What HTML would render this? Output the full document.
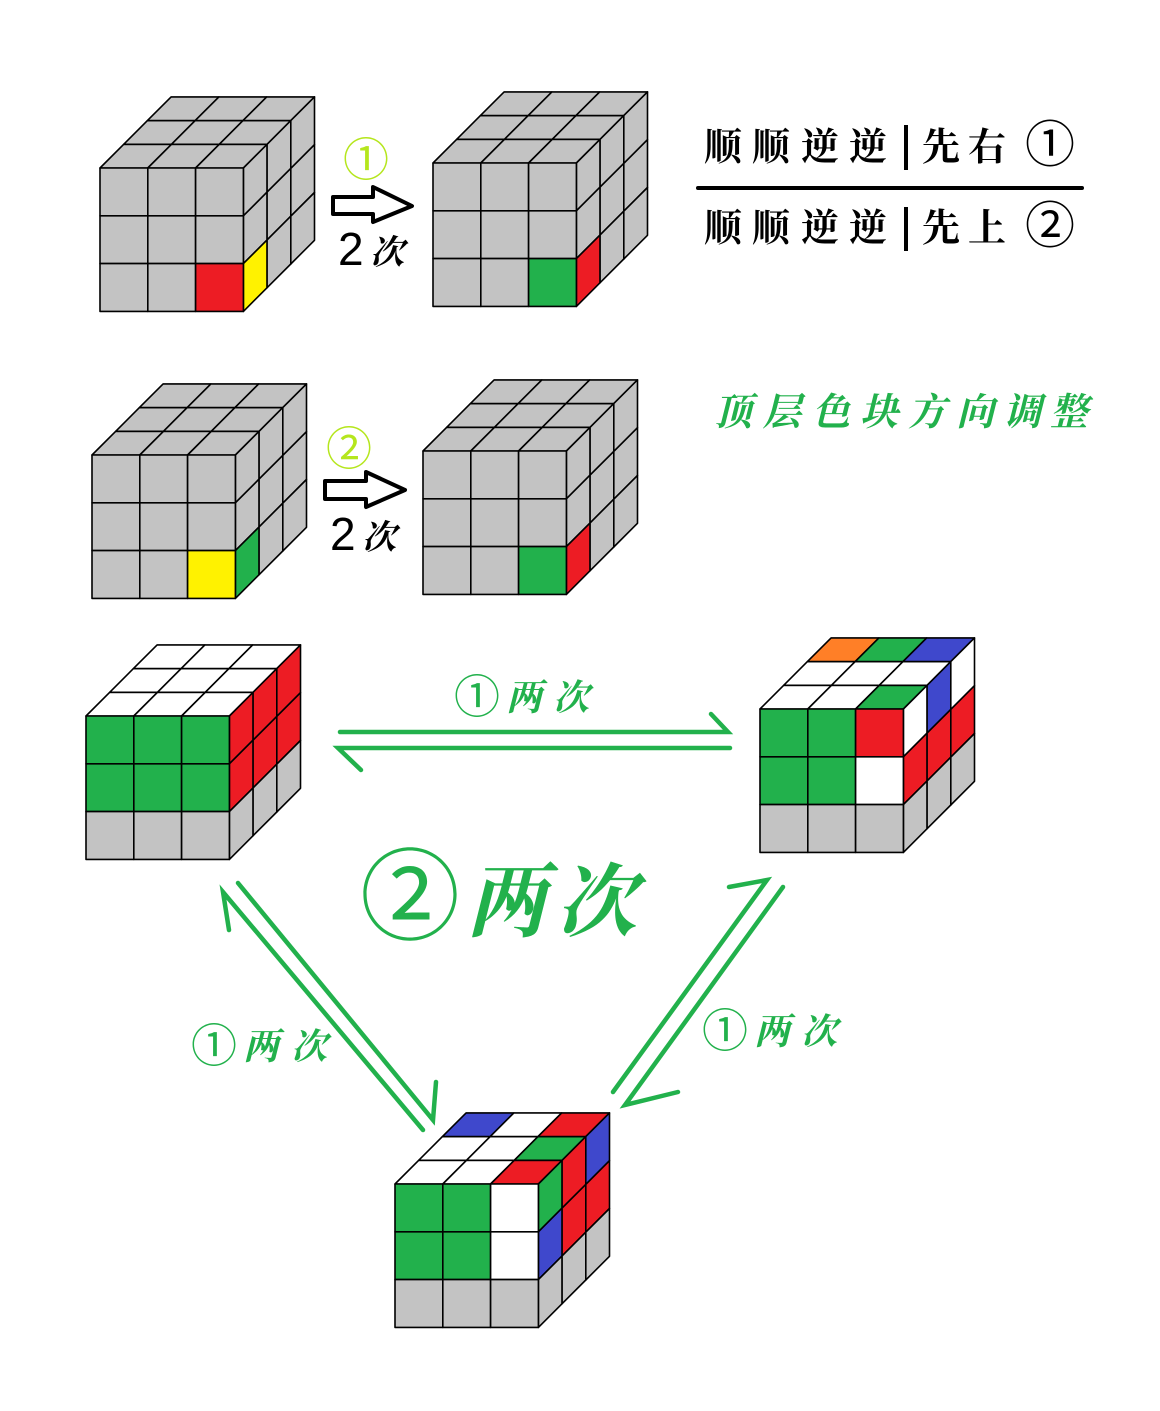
<!DOCTYPE html>
<html><head><meta charset="utf-8"><style>
html,body{margin:0;padding:0;background:#fff;}
svg{display:block}
.cj{font-family:"Liberation Serif","Noto Serif CJK SC",serif;font-weight:bold}
.cs{font-family:"Liberation Sans","Noto Sans CJK SC",sans-serif}
</style></head><body>
<svg id="s" width="1160" height="1411" viewBox="0 0 1160 1411" xmlns="http://www.w3.org/2000/svg">
<g id="cubes"></g>
<!-- arrows top -->
<polygon points="333,197 373,197 373,187 412,206 373,222 373,214 333,214" fill="#fff" stroke="#000" stroke-width="4" stroke-linejoin="round"/>
<polygon points="325,481 366,481 366,472 405,490 366,507 366,499 325,499" fill="#fff" stroke="#000" stroke-width="4" stroke-linejoin="round"/>
<text x="366" y="176" font-size="46" fill="#b5e61d" text-anchor="middle" class="cs">①</text>
<text x="349" y="465" font-size="46" fill="#b5e61d" text-anchor="middle" class="cs">②</text>
<text x="338" y="265" font-size="46" class="cs">2</text>
<text x="370" y="264" font-size="34" class="cj" font-style="italic">次</text>
<text x="330" y="550" font-size="46" class="cs">2</text>
<text x="362" y="549" font-size="34" class="cj" font-style="italic">次</text>
<!-- formula -->
<g class="cj" font-size="38" fill="#000">
<text x="704" y="160">顺</text><text x="752" y="160">顺</text><text x="801" y="160">逆</text><text x="849" y="160">逆</text>
<text x="922" y="160">先</text><text x="968" y="160">右</text>
<text x="704" y="241">顺</text><text x="752" y="241">顺</text><text x="801" y="241">逆</text><text x="849" y="241">逆</text>
<text x="922" y="241">先</text><text x="968" y="241">上</text>
</g>
<line x1="906" y1="125" x2="906" y2="170" stroke="#000" stroke-width="4"/>
<line x1="906" y1="207" x2="906" y2="251" stroke="#000" stroke-width="4"/>
<text x="1050" y="162" font-size="50" text-anchor="middle" class="cs">①</text>
<text x="1050" y="243" font-size="50" text-anchor="middle" class="cs">②</text>
<line x1="698" y1="188" x2="1082" y2="188" stroke="#000" stroke-width="4" stroke-linecap="round"/>
<!-- green title -->
<g class="cj" font-size="38" fill="#22b14c" font-style="italic">
<text x="714" y="425">顶</text><text x="763" y="425">层</text><text x="812" y="425">色</text><text x="860" y="425">块</text><text x="908" y="425">方</text><text x="956" y="425">向</text><text x="1003" y="425">调</text><text x="1050" y="425">整</text>
</g>
<!-- green arrows -->
<g stroke="#22b14c" stroke-width="4.5" stroke-linecap="round" fill="none">
<polyline points="340,732 728,732 711,714"/>
<polyline points="730,748 338,748 361,770"/>
<polyline points="229,930 223,892 423,1130"/>
<polyline points="238,883 433,1120 436,1082"/>
<polyline points="729,887 767,880 613,1092"/>
<polyline points="783,887 625,1105 678,1092"/>
</g>
<g fill="#22b14c">
<text x="477" y="713" font-size="46" text-anchor="middle" class="cs">①</text>
<text x="506" y="710" font-size="36" class="cj" font-style="italic">两</text><text x="553" y="710" font-size="36" class="cj" font-style="italic">次</text>
<text x="214" y="1062" font-size="46" text-anchor="middle" class="cs">①</text>
<text x="243" y="1059" font-size="36" class="cj" font-style="italic">两</text><text x="291" y="1059" font-size="36" class="cj" font-style="italic">次</text>
<text x="725" y="1047" font-size="46" text-anchor="middle" class="cs">①</text>
<text x="754" y="1044" font-size="36" class="cj" font-style="italic">两</text><text x="801" y="1044" font-size="36" class="cj" font-style="italic">次</text>
<text x="410" y="932" font-size="100" text-anchor="middle" class="cs">②</text>
<text x="466" y="930" font-size="80" class="cj" font-style="italic">两</text><text x="556" y="930" font-size="80" class="cj" font-style="italic">次</text>
</g>
</svg>
<script>
(function(){
var G='#c3c3c3',R='#ed1c24',Y='#fff200',N='#22b14c',W='#ffffff',B='#3f48cc',O='#ff7f27';
function cube(x,y,front,top,right){
 var s=47.8,d=23.7,out='';
 function poly(pts,c){out+='<polygon points="'+pts.map(function(p){return p[0].toFixed(1)+','+p[1].toFixed(1)}).join(' ')+'" fill="'+c+'" stroke="#000" stroke-width="1.6" stroke-linejoin="round"/>';}
 function P(a,b){return [x+a*s+b*d,y-b*d];}
 function Q(b,r){return [x+3*s+b*d,y+r*s-b*d];}
 for(var j=0;j<3;j++)for(var i=0;i<3;i++)poly([P(i,j),P(i+1,j),P(i+1,j+1),P(i,j+1)],top[j][i]);
 for(var j=0;j<3;j++)for(var r=0;r<3;r++)poly([Q(j,r),Q(j+1,r),Q(j+1,r+1),Q(j,r+1)],right[j][r]);
 for(var r=0;r<3;r++)for(var c=0;c<3;c++)poly([[x+c*s,y+r*s],[x+(c+1)*s,y+r*s],[x+(c+1)*s,y+(r+1)*s],[x+c*s,y+(r+1)*s]],front[r][c]);
 return out;
}
function g3(){return [[G,G,G],[G,G,G],[G,G,G]];}
function gc(a,b){var f=g3(),r=g3();f[2][2]=a;r[0][2]=b;return [f,g3(),r];}
var h='';
var c;
c=gc(R,Y);h+=cube(100,168,c[0],c[1],c[2]);
c=gc(N,R);h+=cube(433,163,c[0],c[1],c[2]);
c=gc(Y,N);h+=cube(92,455,c[0],c[1],c[2]);
c=gc(N,R);h+=cube(423,451,c[0],c[1],c[2]);
h+=cube(86,716,[[N,N,N],[N,N,N],[G,G,G]],[[W,W,W],[W,W,W],[W,W,W]],[[R,R,G],[R,R,G],[R,R,G]]);
h+=cube(760,709,[[N,N,R],[N,N,W],[G,G,G]],[[W,W,N],[W,W,W],[O,N,B]],[[W,R,G],[B,R,G],[W,R,G]]);
h+=cube(395,1184,[[N,N,W],[N,N,W],[G,G,G]],[[W,W,R],[W,W,N],[B,W,R]],[[N,B,G],[R,R,G],[B,R,G]]);
document.getElementById('cubes').innerHTML=h;
})();
</script>
</body></html>
